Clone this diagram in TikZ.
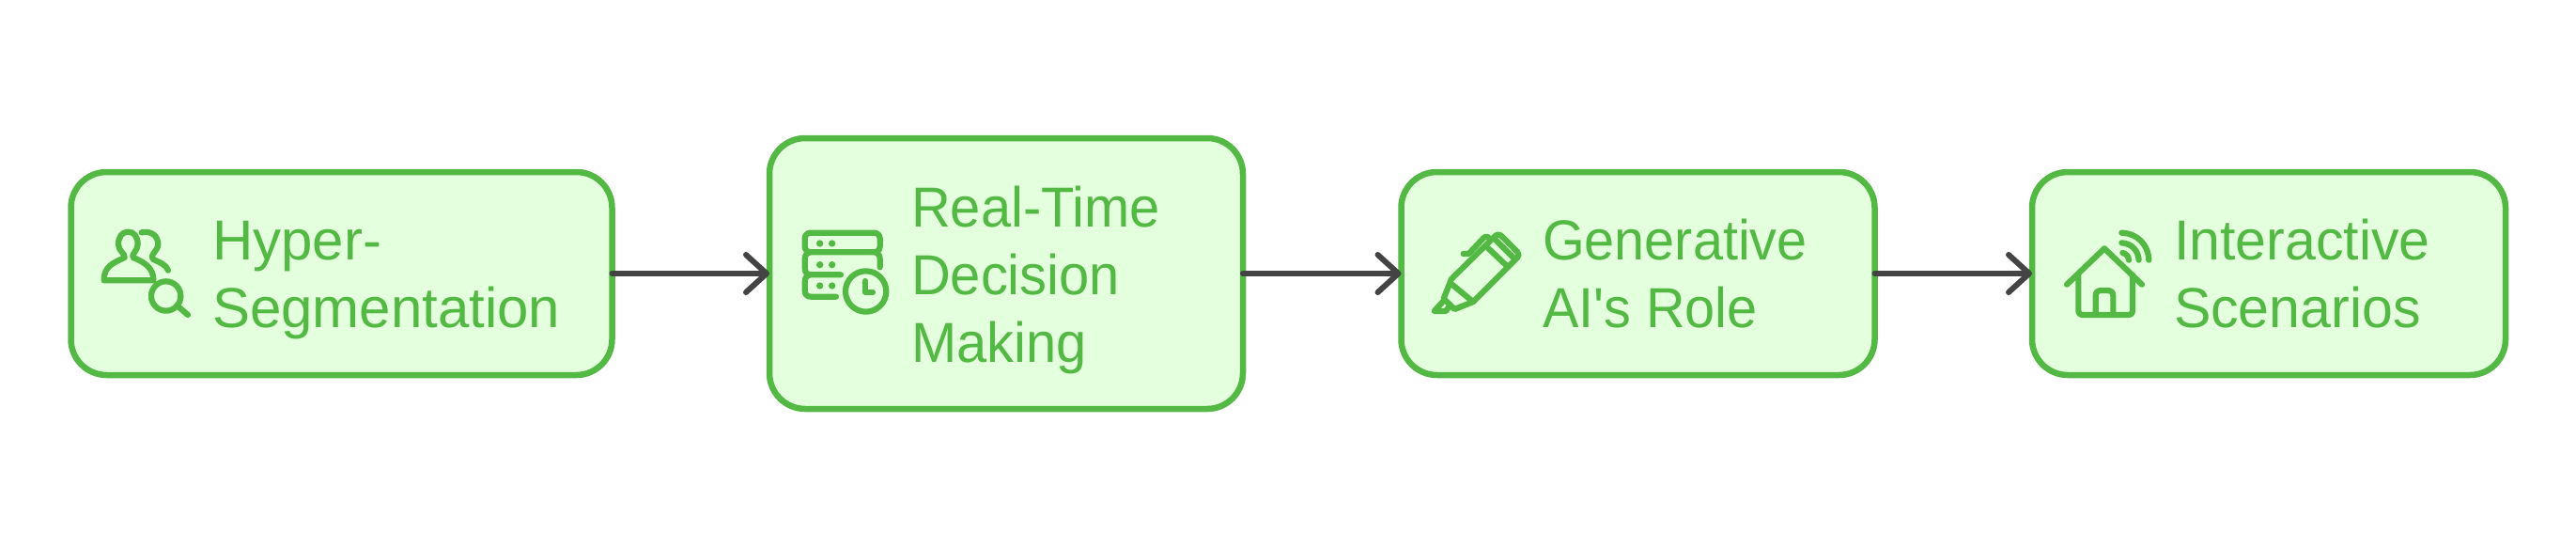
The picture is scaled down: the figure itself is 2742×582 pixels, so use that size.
\documentclass[tikz,border=0pt]{standalone}
\usepackage{fontspec}
\newfontfamily\labelfont{Liberation Sans}
\usetikzlibrary{arrows.meta}
\definecolor{gstroke}{RGB}{84,184,68}
\definecolor{gfill}{RGB}{227,255,222}
\definecolor{aline}{RGB}{68,68,68}
\tikzset{
  flowbox/.style={draw=gstroke,fill=gfill,line width=6.5pt,rounded corners=38pt,outer sep=0pt,inner sep=0pt,minimum height=216pt,minimum width=504pt},
  label/.style={text=gstroke,align=left,anchor=west,inner sep=0pt,outer sep=0pt,transform shape,font=\labelfont\fontsize{60}{72}\selectfont},
  flowarrow/.style={draw=aline,line width=6pt,line cap=round,-{Straight Barb[length=22pt,width=40pt,line cap=round,round]}},
  icon/.style={draw=gstroke,line width=6.2pt,line cap=round,line join=round,x=0.3333pt,y=-0.3333pt},
  icondot/.style={fill=gstroke,x=0.3333pt,y=-0.3333pt},
}
\begin{document}
\begin{tikzpicture}[x=1pt,y=-1pt]
\useasboundingbox (0,0) rectangle (2742,582);
\fill[white] (0,0) rectangle (2742,582);
\node[flowbox,minimum width=576pt] (b1) at (363.5,291) {};
\node[flowbox,minimum height=288pt] (b2) at (1071,291) {};
\node[flowbox] (b3) at (1743.5,291) {};
\node[flowbox] (b4) at (2415,291) {};
\draw[flowarrow] (b1.east) -- (b2.west);
\draw[flowarrow] (b2.east) -- (b3.west);
\draw[flowarrow] (b3.east) -- (b4.west);
\node[label,xscale=1.0] (t1) at (226,298) {Hyper-\\Segmentation};
\node[label,xscale=0.965] (t2) at (970,298) {Real-Time\\Decision\\Making};
\node[label,xscale=0.96] (t3) at (1642,291) {Generative\\AI's Role};
\node[label,xscale=0.985] (t4) at (2314,291) {Interactive\\Scenarios};
% people + magnifier
\begin{scope}[shift={(100,230)}]
\draw[icon] (32,205) -- (190,205) .. controls (190,170) and (170,150) .. (125,132) .. controls (118,122) and (140,110) .. (140,90) .. controls (140,65) and (128,50) .. (110,50) .. controls (90,50) and (78,65) .. (78,90) .. controls (78,110) and (100,120) .. (98,132) .. controls (60,150) and (32,160) .. (32,205) -- cycle;
\draw[icon] (152,52) .. controls (185,45) and (205,65) .. (205,90) .. controls (205,110) and (175,125) .. (190,138) .. controls (215,150) and (230,155) .. (237,173);
\draw[icon] (230,255) circle [radius=47];
\draw[icon] (265,285) -- (300,315);
\end{scope}
% server + clock
\begin{scope}[shift={(845,235)}]
\draw[icon,rounded corners=6pt] (35,38) rectangle (275,100);
\draw[icon] (50,100) .. controls (40,105) and (35,110) .. (35,122) -- (35,150) .. controls (35,162) and (40,172) .. (55,172) -- (150,172);
\draw[icon] (262,100) .. controls (270,105) and (275,110) .. (275,122) -- (275,148);
\draw[icon] (50,172) .. controls (40,177) and (35,182) .. (35,195) -- (35,222) .. controls (35,235) and (42,242) .. (55,242) -- (135,242);
\foreach \px/\py in {83/72,122/72,83/140,122/140,83/207,122/207}
  \fill[icondot] (\px,\py) circle [radius=11];
\draw[icon] (230,225) circle [radius=65];
\draw[icon] (228,192) -- (228,228) -- (252,228);
\end{scope}
% marker
\begin{scope}[shift={(1515,235)}]
\draw[icon] (90,185) -- (228,50) .. controls (236,42) and (244,42) .. (252,50) -- (300,98) .. controls (306,105) and (306,112) .. (300,118) -- (160,258) -- (100,282) -- (65,248) -- cycle;
\draw[icon] (92,203) -- (155,255);
\draw[icon] (207,87) -- (265,142);
\draw[icon] (232,62) -- (288,118);
\draw[icon] (65,255) -- (35,288) -- (72,288) -- (85,270);
\draw[icon] (128,105) -- (145,105) -- (192,55) .. controls (200,47) and (208,50) .. (215,60);
\end{scope}
% house + wifi
\begin{scope}[shift={(2190,235)}]
\draw[icon] (30,203) -- (150,88) -- (270,203);
\draw[icon] (67,172) -- (67,285) .. controls (67,295) and (72,300) .. (82,300) -- (225,300) .. controls (235,300) and (240,295) .. (240,285) -- (240,172);
\draw[icon] (122,298) -- (122,240) .. controls (122,228) and (128,222) .. (140,222) -- (160,222) .. controls (172,222) and (178,228) .. (178,240) -- (178,298);
\draw[icon] (205,38) .. controls (255,40) and (290,75) .. (292,125);
\draw[icon] (205,70) .. controls (238,72) and (258,95) .. (260,125);
\draw[icon] (208,102) .. controls (220,105) and (227,112) .. (228,125);
\end{scope}
\end{tikzpicture}
\end{document}
